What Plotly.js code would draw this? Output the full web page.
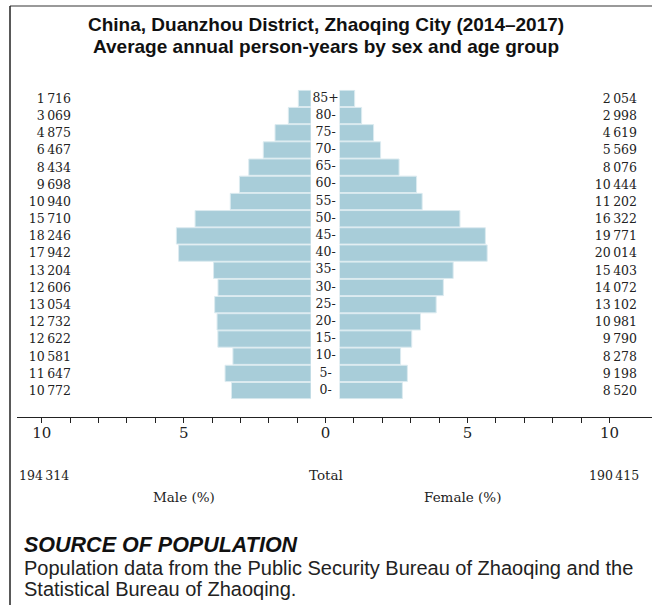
<!DOCTYPE html>
<html><head><meta charset="utf-8">
<script src="https://cdn.plot.ly/plotly-3.0.1.min.js"></script>
<style>html,body{margin:0;padding:0;background:#fff}</style>
</head><body><div id="chart" style="width:652px;height:605px"></div>
<script>
// Data (top row = oldest age group)
const ages = ['85+','80-','75-','70-','65-','60-','55-','50-','45-','40-','35-','30-','25-','20-','15-','10-','5-','0-'];
const maleCounts = [1716,3069,4875,6467,8434,9698,10940,15710,18246,17942,13204,12606,13054,12732,12622,10581,11647,10772];
const femaleCounts = [2054,2998,4619,5569,8076,10444,11202,16322,19771,20014,15403,14072,13102,10981,9790,8278,9198,8520];
const maleTotal = 194314;
const femaleTotal = 190415;
const axisTicks = [-10,-9,-8,-7,-6,-5,-4,-3,-2,-1,0,1,2,3,4,5,6,7,8,9,10];
const axisTickLabels = ['10','','','','','5','','','','','0','','','','','5','','','','','10'];

const fmt = n => String(n).replace(/\B(?=(\d{3})+(?!\d))/g, '\u2009');
const grand = maleTotal + femaleTotal;
const malePct = maleCounts.map(v => v / grand * 100);
const femalePct = femaleCounts.map(v => v / grand * 100);

// layout helpers (pixel -> paper)
const W = 652, H = 605;
const px = x => x / W;
const py = y => 1 - y / H;
const scale = 28.39;       // px per percent
const center = 325.6;
const maleZero = 311, femaleZero = 339.5;
const serif = 'DejaVu Serif';
const sans = 'Liberation Sans';
const barColor = '#a8cdd9';

const traces = [
  {type:'bar', orientation:'h', x:malePct, y:ages, xaxis:'x', yaxis:'y',
   marker:{color:barColor, line:{color:'#dcebf0', width:1}}, hoverinfo:'skip'},
  {type:'bar', orientation:'h', x:femalePct, y:ages, xaxis:'x2', yaxis:'y2',
   marker:{color:barColor, line:{color:'#dcebf0', width:1}}, hoverinfo:'skip'},
  {type:'scatter', mode:'text', x:ages.map(() => 0), y:ages, text:ages, xaxis:'x3', yaxis:'y',
   textposition:'middle center', textfont:{family:serif, size:12.5, color:'#222'}, hoverinfo:'skip'}
];

const yDomain = [py(399.2), py(89.8)];
const layout = {
  width: W, height: H,
  margin:{l:0,r:0,t:0,b:0},
  paper_bgcolor:'#fff', plot_bgcolor:'rgba(0,0,0,0)',
  showlegend:false, bargap:0.05,
  xaxis:{domain:[px(17), px(maleZero)], range:[(maleZero-17)/scale, 0], visible:false, anchor:'y', fixedrange:true},
  xaxis2:{domain:[px(femaleZero), px(645)], range:[0, (645-femaleZero)/scale], visible:false, anchor:'y2', fixedrange:true},
  xaxis3:{domain:[px(17), 1], range:[-(center-17)/scale, (W-center)/scale], anchor:'free', position:py(417),
          showline:true, linecolor:'#222', linewidth:1, ticks:'outside', ticklen:5, tickcolor:'#222', tickwidth:1,
          tickmode:'array', tickvals:axisTicks, ticktext:axisTickLabels, showgrid:false, zeroline:false,
          ticklabelstandoff:-3,
          tickfont:{family:serif, size:15, color:'#222'}, fixedrange:true},
  yaxis:{domain:yDomain, type:'category', categoryarray:ages, range:[17.5,-0.5], anchor:'free', position:px(71),
         tickmode:'array', tickvals:ages, ticktext:maleCounts.map(fmt), ticks:'', showgrid:false, zeroline:false,
         showline:false, tickfont:{family:serif, size:12.5, color:'#222'}, fixedrange:true},
  yaxis2:{domain:yDomain, type:'category', categoryarray:ages, range:[17.5,-0.5], overlaying:'y', side:'right',
          anchor:'free', position:px(640), ticklabelposition:'inside',
          tickmode:'array', tickvals:ages, ticktext:femaleCounts.map(fmt), ticks:'', showgrid:false, zeroline:false,
          showline:false, tickfont:{family:serif, size:12.5, color:'#222'}, fixedrange:true},
  shapes:[
    {type:'line', xref:'paper', yref:'paper', x0:px(10), x1:1, y0:py(6), y1:py(6), line:{color:'#999', width:2}},
    {type:'line', xref:'paper', yref:'paper', x0:px(10), x1:px(10), y0:py(6), y1:0, line:{color:'#222', width:1.5}}
  ],
  annotations:[
    {xref:'paper', yref:'paper', x:px(326), y:py(24), text:'<b>China, Duanzhou District, Zhaoqing City (2014–2017)</b>', showarrow:false, xanchor:'center', yanchor:'middle', font:{family:sans, size:19, color:'#111'}},
    {xref:'paper', yref:'paper', x:px(326), y:py(46), text:'<b>Average annual person-years by sex and age group</b>', showarrow:false, xanchor:'center', yanchor:'middle', font:{family:sans, size:19, color:'#111'}},
    {xref:'paper', yref:'paper', x:px(71), y:py(475), text:fmt(maleTotal), showarrow:false, xanchor:'right', yanchor:'middle', font:{family:serif, size:12.5, color:'#222'}},
    {xref:'paper', yref:'paper', x:px(center), y:py(475), text:'Total', showarrow:false, xanchor:'center', yanchor:'middle', font:{family:serif, size:13.5, color:'#222'}},
    {xref:'paper', yref:'paper', x:px(641), y:py(475), text:fmt(femaleTotal), showarrow:false, xanchor:'right', yanchor:'middle', font:{family:serif, size:12.5, color:'#222'}},
    {xref:'paper', yref:'paper', x:px(184), y:py(497), text:'Male (%)', showarrow:false, xanchor:'center', yanchor:'middle', font:{family:serif, size:13.5, color:'#222'}},
    {xref:'paper', yref:'paper', x:px(462), y:py(497), text:'Female (%)', showarrow:false, xanchor:'center', yanchor:'middle', font:{family:serif, size:13.5, color:'#222'}},
    {xref:'paper', yref:'paper', x:px(22), y:py(545), text:'<b><i>SOURCE OF POPULATION</i></b>', showarrow:false, xanchor:'left', yanchor:'middle', font:{family:sans, size:21.5, color:'#111'}},
    {xref:'paper', yref:'paper', x:px(22), y:py(568), text:'Population data from the Public Security Bureau of Zhaoqing and the', showarrow:false, xanchor:'left', yanchor:'middle', font:{family:sans, size:20, color:'#222'}},
    {xref:'paper', yref:'paper', x:px(22), y:py(589), text:'Statistical Bureau of Zhaoqing.', showarrow:false, xanchor:'left', yanchor:'middle', font:{family:sans, size:20, color:'#222'}}
  ]
};
Plotly.newPlot('chart', traces, layout, {displayModeBar:false, staticPlot:true});
</script></body></html>
